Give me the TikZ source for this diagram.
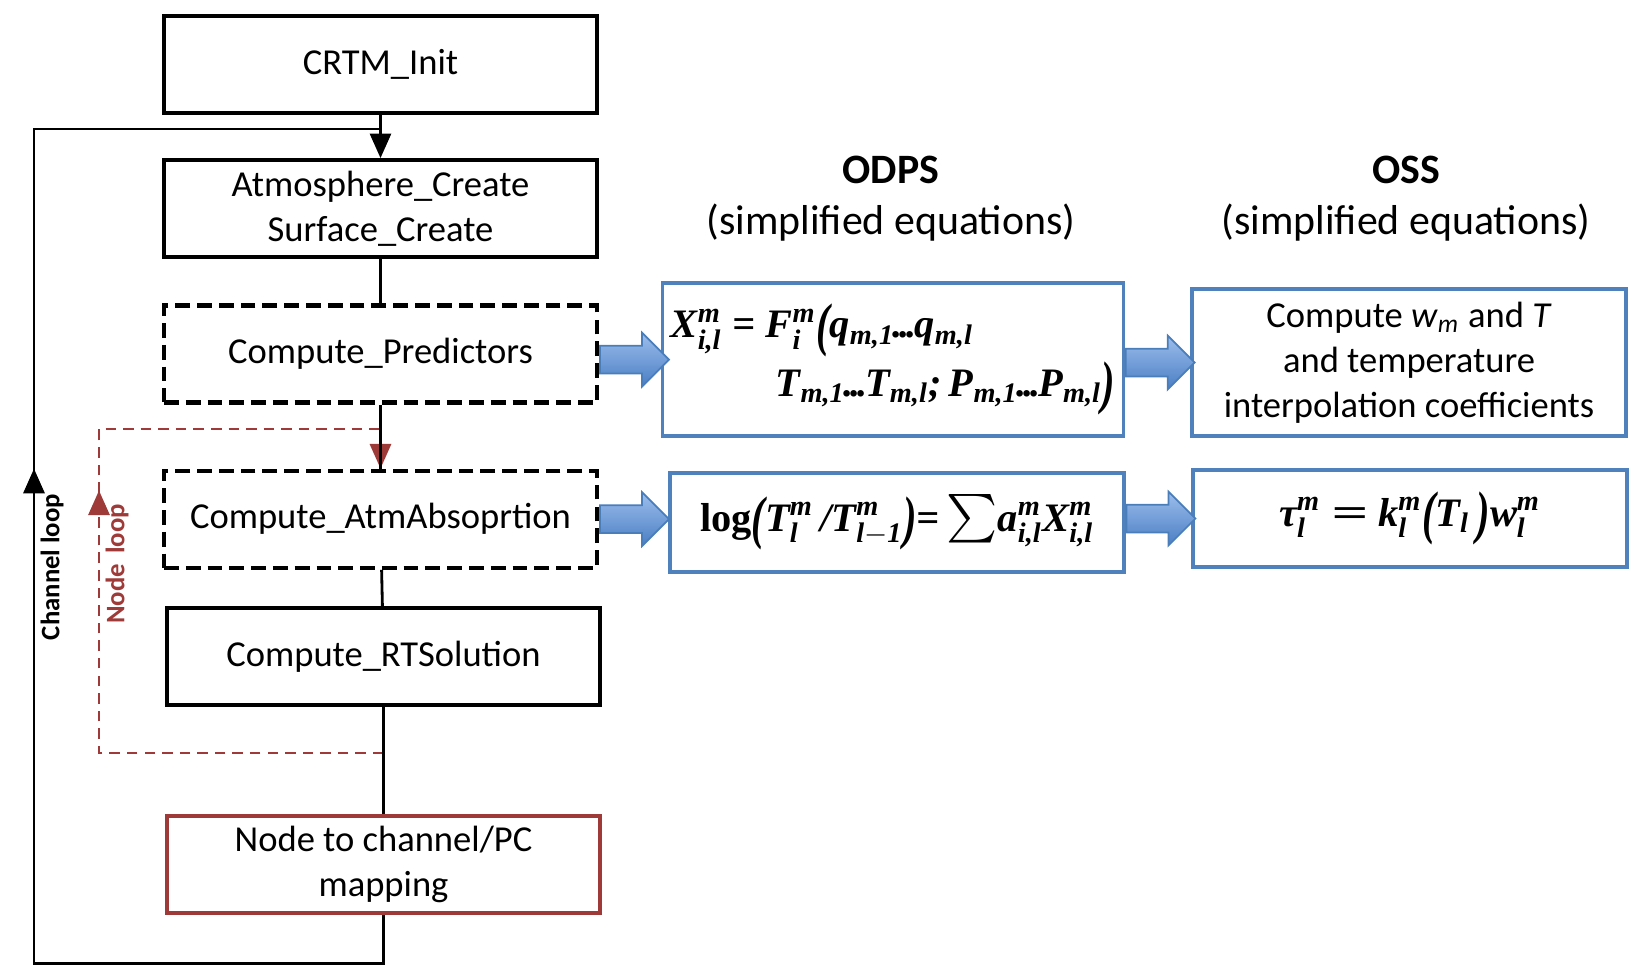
\documentclass[tikz,border=0pt]{standalone}
\usepackage{amsmath}
\usepackage{fontspec}
\setmainfont{Carlito}
\newfontfamily\eqfont{Liberation Serif}
\usepackage{xcolor}
\usepackage{tikz}
\usetikzlibrary{positioning, arrows.meta, shapes.arrows, calc, decorations.markings}

\definecolor{boxblue}{HTML}{4F81BD}
\definecolor{loopred}{HTML}{9E3B39}
\definecolor{arrowtop}{HTML}{9DBEEC}
\definecolor{arrowbot}{HTML}{4A7EC4}
\definecolor{arrowedge}{HTML}{4A7EBB}

% super/subscript helpers for the equation boxes
\newcommand{\ud}[2]{$^{\text{#1}}_{\text{#2}}$}
\newcommand{\dn}[1]{$_{\text{#1}}$}
\newcommand{\tallparen}[1]{\raisebox{-0.35ex}{\scalebox{1}[1.45]{#1}}}
\newcommand{\dts}{\kern-0.05em.\kern-0.08em.\kern-0.08em.\kern-0.05em}

\begin{document}
\begin{tikzpicture}[
    stage/.style={
        rectangle, draw=black, line width=1.2pt, fill=white,
        minimum width=4.33cm, minimum height=0.97cm, align=center,
        inner sep=0pt, font=\fontsize{10.4}{12.8}\selectfont
    },
    dashedstage/.style={stage, dash pattern=on 4.2pt off 2pt},
    eqbox/.style={
        rectangle, draw=boxblue, line width=0.9pt, fill=white,
        align=center, font=\fontsize{10.4}{12.8}\selectfont
    },
    eqtext/.style={font=\eqfont\bfseries\itshape\fontsize{11.5}{16.6}\selectfont},
    fat/.style={
        single arrow, draw=arrowedge, line width=0.5pt,
        top color=arrowtop, bottom color=arrowbot,
        minimum height=0.69cm, inner sep=0.13cm,
        single arrow head extend=0.13cm, anchor=tail
    },
    link/.style={line width=0.8pt},
    tip/.style={-{Triangle[length=7pt, width=6pt]}},
    nodeloop/.style={draw=loopred, line width=0.8pt, dash pattern=on 3pt off 2pt},
    looplabel/.style={rotate=90, font=\bfseries\fontsize{7.6}{9}\selectfont}
]

\useasboundingbox (0,0) rectangle (16.37,-9.69);

% Left: CRTM call sequence
\node[stage] (init) at (3.805,-0.645) {CRTM\_Init};
\node[stage, below=0.43cm of init] (create) {Atmosphere\_Create\\Surface\_Create};
\node[dashedstage, below=0.44cm of create] (pred) {Compute\_Predictors};
\node[dashedstage, below=0.64cm of pred] (absorb) {Compute\_AtmAbsoprtion};
\node[stage, below=0.36cm of absorb, xshift=0.03cm] (rtsol) {Compute\_RTSolution};
\node[stage, draw=loopred, below=1.07cm of rtsol] (mapping) {Node to channel/PC\\mapping};

\draw[link, tip] (init) -- (create);
\draw[link] (create) -- (pred);

% node loop
\coordinate (nodeback) at ($(rtsol.south)!0.43!(mapping.north)$);
\draw[nodeloop, tip, postaction={decorate}, decoration={markings,
    mark=at position 5.47cm with {\arrow[loopred]{Triangle[length=7pt, width=6pt]}}}]
    (nodeback) -| (0.99,-4.29) -| (absorb.north);
\draw[link] (pred) -- (absorb);
\draw[link] (absorb) -- (rtsol);
\draw[link] (rtsol) -- (mapping);

% channel loop
\draw[link, postaction={decorate}, decoration={markings,
    mark=at position 8.92cm with {\arrow{Triangle[length=7pt, width=6pt]}}}]
    (mapping.south) -- ++(0,-0.48) -| (0.34,-1.29) -- (init.south |- 0,-1.29);

\node[looplabel] (chlabel) at (0.52,-5.67) {Channel loop};
\node[looplabel, text=loopred] (nllabel) at (1.17,-5.64) {Node\, loop};

% Right: ODPS and OSS
\node[align=center, font=\fontsize{11.9}{14.5}\selectfont] (odpstitle) at (8.91,-1.99) {\textbf{ODPS}\\(simplified equations)};
\node[align=center, font=\fontsize{11.9}{14.5}\selectfont] (osstitle) at (14.06,-1.99) {\textbf{OSS}\\(simplified equations)};

\node[eqbox, eqtext, align=left, minimum width=4.52cm, minimum height=1.53cm, inner xsep=0.08cm] (odpsx) at (8.93,-3.595)
    {X\ud{m}{i,l} = F\ud{m}{i}\tallparen{(}q\dn{m,1}\dts q\dn{m,l}\\
     \hspace*{1.05cm}T\dn{m,1}\dts T\dn{m,l};\,P\dn{m,1}\dts P\dn{m,l}\tallparen{)}};
\node[eqbox, eqtext, minimum width=4.54cm, minimum height=0.99cm] (odpslog) at (8.97,-5.225)
    {{\upshape log}\tallparen{(}T\ud{m}{l}\,/T\ud{m}{l$-$1}\tallparen{)}=\,\scalebox{1.15}{$\sum$}a\ud{m}{i,l}X\ud{m}{i,l}};
\node[eqbox, minimum width=4.34cm, minimum height=1.47cm] (osscoef) at (14.09,-3.625)
    {Compute \textit{w}\textsubscript{\textit{m}} and \textit{T}\\and temperature\\interpolation coefficients};
\node[eqbox, eqtext, minimum width=4.34cm, minimum height=0.97cm] (osstau) at (14.10,-5.185)
    {τ\ud{m}{l} \scalebox{1.6}[1]{=} k\ud{m}{l}\tallparen{(}T\dn{l}\,\tallparen{)}w\ud{m}{l}};

\node[fat] (fatpred) at (pred.east |- odpsx.west) {};
\node[fat] (fatabs) at (absorb.east) {};
\node[fat] (fatx) at (odpsx.east |- osscoef.west) {};
\node[fat] (fatlog) at (odpslog.east |- osstau.west) {};

\end{tikzpicture}
\end{document}
